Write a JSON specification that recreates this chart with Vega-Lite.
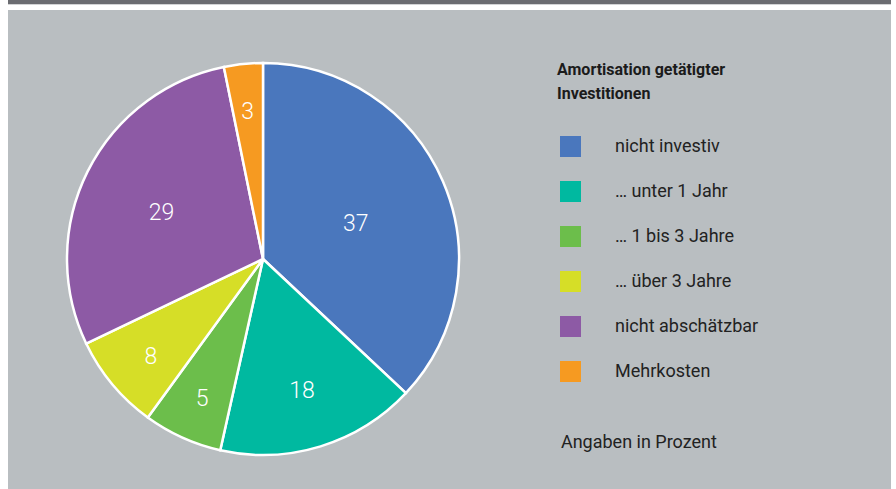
{
  "$schema": "https://vega.github.io/schema/vega-lite/v6.json",
  "background": "white",
  "padding": {"left": 8, "right": 5, "top": 0, "bottom": 0},
  "config": {"view": {"stroke": null}, "concat": {"spacing": 0}, "font": "Roboto"},
  "datasets": {
    "anteile": [
      {"Kategorie": "nicht investiv", "Anteil": 37, "Sektor": 37.0, "Reihenfolge": 1},
      {"Kategorie": "… unter 1 Jahr", "Anteil": 18, "Sektor": 16.5, "Reihenfolge": 2},
      {"Kategorie": "… 1 bis 3 Jahre", "Anteil": 5, "Sektor": 6.5, "Reihenfolge": 3},
      {"Kategorie": "… über 3 Jahre", "Anteil": 8, "Sektor": 7.9, "Reihenfolge": 4},
      {"Kategorie": "nicht abschätzbar", "Anteil": 29, "Sektor": 28.9, "Reihenfolge": 5},
      {"Kategorie": "Mehrkosten", "Anteil": 3, "Sektor": 3.2, "Reihenfolge": 6}
    ],
    "flaeche": [{"Element": "Fläche"}],
    "hinweis": [{"Text": "Angaben in Prozent"}]
  },
  "spacing": 0,
  "vconcat": [
    {"data": {"name": "flaeche"}, "width": 883, "height": 4, "mark": {"type": "rect", "color": "#6b6c71"}, "encoding": {}},
    {"data": {"name": "flaeche"}, "width": 883, "height": 1, "mark": {"type": "rect", "color": "#d2d3d5"}, "encoding": {}},
    {"data": {"name": "flaeche"}, "width": 883, "height": 5, "mark": {"type": "rect", "color": "#ffffff"}, "encoding": {}},
    {
      "spacing": 0,
      "resolve": {"scale": {"color": "independent"}, "legend": {"color": "independent"}},
      "hconcat": [
        {
          "spacing": 0,
          "vconcat": [
            {"data": {"name": "flaeche"}, "width": 510, "height": 19, "view": {"fill": "#b9bec1"}, "mark": {"type": "rect", "color": "#b9bec1"}, "encoding": {}},
            {
              "data": {"name": "anteile"},
              "width": 510,
              "height": 460,
              "view": {"fill": "#b9bec1"},
              "encoding": {
                "theta": {"field": "Sektor", "type": "quantitative", "stack": true},
                "order": {"field": "Reihenfolge", "type": "quantitative"}
              },
              "layer": [
                {
                  "mark": {"type": "arc", "outerRadius": 196, "stroke": "white", "strokeWidth": 2.5},
                  "encoding": {
                    "color": {
                      "field": "Kategorie", "type": "nominal",
                      "scale": {
                        "domain": ["nicht investiv", "… unter 1 Jahr", "… 1 bis 3 Jahre", "… über 3 Jahre", "nicht abschätzbar", "Mehrkosten"],
                        "range": ["#4a77bd", "#00b9a0", "#6cbe4b", "#d6de27", "#8d5aa5", "#f69a21"]
                      },
                      "legend": null
                    }
                  }
                },
                {
                  "mark": {"type": "text", "color": "white", "fontSize": 23, "fontWeight": 300, "dy": 5},
                  "encoding": {
                    "text": {"field": "Anteil", "type": "quantitative"},
                    "radius": {"field": "Sektor", "type": "quantitative", "scale": {"domain": [3.2, 37], "range": [153, 101], "zero": false}}
                  }
                }
              ]
            }
          ]
        },
        {
          "width": 373,
          "height": 479,
          "view": {"fill": "#b9bec1"},
          "layer": [
            {
              "data": {"name": "anteile"},
              "mark": {"type": "square", "opacity": 0},
              "encoding": {
                "color": {
                  "field": "Kategorie", "type": "nominal",
                  "scale": {
                    "domain": ["nicht investiv", "… unter 1 Jahr", "… 1 bis 3 Jahre", "… über 3 Jahre", "nicht abschätzbar", "Mehrkosten"],
                    "range": ["#4a77bd", "#00b9a0", "#6cbe4b", "#d6de27", "#8d5aa5", "#f69a21"]
                  },
                  "legend": {
                    "orient": "none",
                    "legendX": 39,
                    "legendY": 52,
                    "title": ["Amortisation getätigter", "Investitionen"],
                    "titleFontSize": 16,
                    "titleFontWeight": "bold",
                    "titleColor": "#1b1b1b",
                    "titleLineHeight": 24,
                    "titlePadding": 34,
                    "labelFontSize": 18,
                    "labelColor": "#222222",
                    "labelOffset": 34,
                    "labelLimit": 300,
                    "symbolType": "square",
                    "symbolSize": 441,
                    "symbolOpacity": 1,
                    "symbolStrokeWidth": 0,
                    "symbolOffset": 3,
                    "rowPadding": 24
                  }
                }
              }
            },
            {
              "data": {"name": "hinweis"},
              "mark": {"type": "text", "align": "left", "baseline": "alphabetic", "fontSize": 18, "color": "#222222"},
              "encoding": {
                "text": {"field": "Text", "type": "nominal"},
                "x": {"datum": 0.115, "type": "quantitative", "scale": {"domain": [0, 1]}, "axis": null},
                "y": {"datum": 0.086, "type": "quantitative", "scale": {"domain": [0, 1]}, "axis": null}
              }
            }
          ]
        }
      ]
    }
  ]
}
